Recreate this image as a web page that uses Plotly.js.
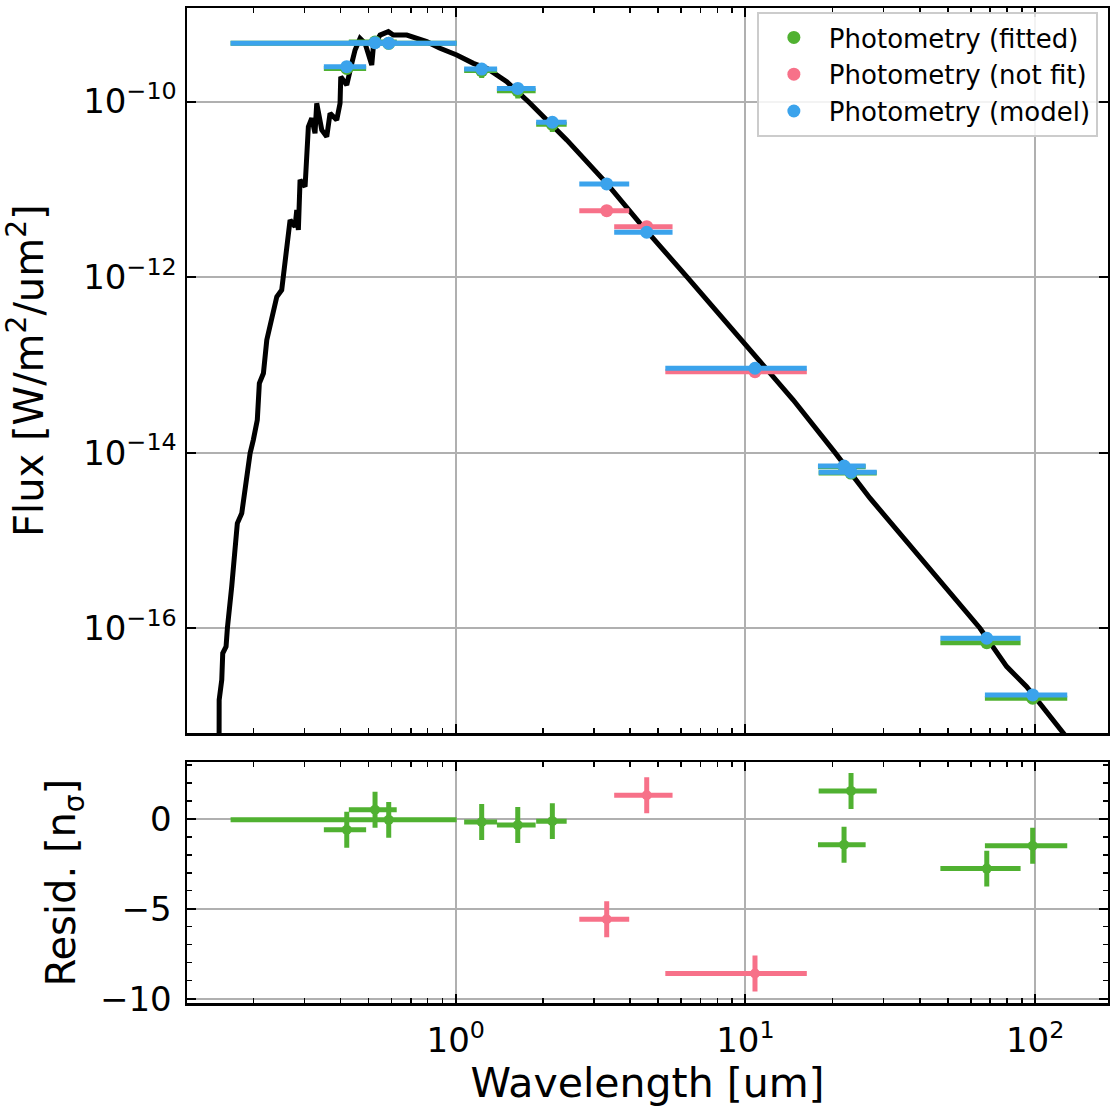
<!DOCTYPE html>
<html>
<head>
<meta charset="utf-8">
<script src="https://cdn.plot.ly/plotly-3.0.1.min.js"></script>
<style>html,body{margin:0;padding:0;background:#fff;}#chart{width:1110px;height:1107px;}</style>
</head>
<body>
<div id="chart"></div>
<script>
// ---- Model SED (black curve) ----
const sedWavelength = [0.1524, 0.1525, 0.1557, 0.1569, 0.1611, 0.1628, 0.1685, 0.1730, 0.1762, 0.1825, 0.1874, 0.1950, 0.2001, 0.2065, 0.2099, 0.2168, 0.2227, 0.2317, 0.2411, 0.2507, 0.2575, 0.2644, 0.2680, 0.2788, 0.2826, 0.2862, 0.2901, 0.3019, 0.3099, 0.3184, 0.3267, 0.3312, 0.3447, 0.3587, 0.3682, 0.3883, 0.3987, 0.4009, 0.4205, 0.4375, 0.4492, 0.4674, 0.4863, 0.5129, 0.5194, 0.5479, 0.5852, 0.6089, 0.6776, 0.7943, 0.8827, 1.008, 1.150, 1.279, 1.500, 1.805, 2.416, 3.320, 4.327, 6.272, 9.97, 14.63, 20.39, 26.92, 64.53, 79.8, 93.5, 125.1, 137.3];
const sedFlux = [4.69e-18, 1.53e-17, 2.58e-17, 5.19e-17, 6.17e-17, 1.0e-16, 2.98e-16, 7.14e-16, 1.57e-15, 2.04e-15, 4.10e-15, 9.84e-15, 1.40e-14, 2.36e-14, 6.17e-14, 8.02e-14, 1.92e-13, 3.24e-13, 5.98e-13, 7.13e-13, 1.44e-12, 3.16e-12, 4.47e-12, 3.75e-12, 5.81e-12, 3.44e-12, 1.28e-11, 1.07e-11, 5.16e-11, 6.44e-11, 4.35e-11, 9.54e-11, 4.73e-11, 3.97e-11, 7.34e-11, 6.15e-11, 9.54e-11, 1.91e-10, 1.54e-10, 2.72e-10, 3.86e-10, 5.25e-10, 4.61e-10, 2.61e-10, 4.21e-10, 5.71e-10, 6.24e-10, 5.71e-10, 5.71e-10, 4.80e-10, 4.04e-10, 3.39e-10, 2.72e-10, 2.39e-10, 1.68e-10, 9.54e-11, 3.65e-11, 1.17e-11, 4.10e-12, 1.01e-12, 1.76e-13, 3.98e-14, 1.0e-14, 3.03e-15, 1.0e-16, 3.66e-17, 2.16e-17, 6.37e-18, 4.34e-18];

// ---- Photometry: fitted ----
const fitWavelength    = [0.4205, 0.5265, 0.587, 1.229, 1.637, 2.155, 21.9, 23.15, 68.1, 98.1];
const fitWavelengthErr = [0.07, 0.099, 0.42, 0.16, 0.25, 0.26, 4.1, 5.25, 21, 31];
const fitFlux          = [2.38e-10, 4.75e-10, 4.60e-10, 2.25e-10, 1.33e-10, 5.5e-11, 6.9e-15, 5.85e-15, 6.85e-17, 1.60e-17];
const fitFluxErr       = [0.25e-10, 0.3e-10, 0.3e-10, 0.4e-10, 0.25e-10, 1.0e-11, 0.5e-15, 0.4e-15, 0.4e-17, 0.1e-17];
const fitModelFlux     = [2.49e-10, 4.68e-10, 4.62e-10, 2.34e-10, 1.41e-10, 5.80e-11, 7.05e-15, 5.98e-15, 7.69e-17, 1.74e-17];
const fitResidual      = [-0.61, 0.50, -0.06, -0.18, -0.35, -0.13, -1.44, 1.55, -2.77, -1.50];
const fitResidualErr   = [1, 1, 1, 1, 1, 1, 1, 1, 1, 1];

// ---- Photometry: not fit ----
const nofitWavelength    = [3.32, 4.563, 10.79];
const nofitWavelengthErr = [0.65, 1.04, 5.5];
const nofitFlux          = [5.70e-12, 3.75e-12, 8.37e-14];
const nofitFluxErr       = [0.4e-12, 0.3e-12, 0.4e-14];
const nofitModelFlux     = [1.15e-11, 3.24e-12, 9.15e-14];
const nofitResidual      = [-5.58, 1.31, -8.6];
const nofitResidualErr   = [1, 1, 1];

// ---- Axis ticks ----
const xTickVals = [1, 10, 100];
const xTickText = ['10<sup>0</sup>', '10<sup>1</sup>', '10<sup>2</sup>'];
const xMinorVals = [0.2,0.3,0.4,0.5,0.6,0.7,0.8,0.9,2,3,4,5,6,7,8,9,20,30,40,50,60,70,80,90];
const fluxTickVals = [1e-16, 1e-14, 1e-12, 1e-10];
const fluxTickText = ['10<sup>\u221216</sup>', '10<sup>\u221214</sup>', '10<sup>\u221212</sup>', '10<sup>\u221210</sup>'];
const residTickVals = [-10, -5, 0];
const residTickText = ['\u221210', '\u22125', '0'];

const GREEN = '#50b131', PINK = '#f77189', BLUE = '#3ba3ec';
const FONT = 'DejaVu Sans, sans-serif';

const modelWavelength = fitWavelength.concat(nofitWavelength);
const modelWavelengthErr = fitWavelengthErr.concat(nofitWavelengthErr);
const modelFlux = fitModelFlux.concat(nofitModelFlux);

const traces = [
  {x: sedWavelength, y: sedFlux, type: 'scatter', mode: 'lines',
   line: {color: 'black', width: 5}, showlegend: false, xaxis: 'x', yaxis: 'y', hoverinfo: 'skip'},
  {x: fitWavelength, y: fitFlux, type: 'scatter', mode: 'markers', name: 'Photometry (fitted)',
   marker: {color: GREEN, size: 13},
   error_x: {type: 'data', array: fitWavelengthErr, color: GREEN, thickness: 5, width: 0},
   error_y: {type: 'data', array: fitFluxErr, color: GREEN, thickness: 5, width: 0},
   xaxis: 'x', yaxis: 'y'},
  {x: nofitWavelength, y: nofitFlux, type: 'scatter', mode: 'markers', name: 'Photometry (not fit)',
   marker: {color: PINK, size: 13},
   error_x: {type: 'data', array: nofitWavelengthErr, color: PINK, thickness: 5, width: 0},
   error_y: {type: 'data', array: nofitFluxErr, color: PINK, thickness: 5, width: 0},
   xaxis: 'x', yaxis: 'y'},
  {x: modelWavelength, y: modelFlux, type: 'scatter', mode: 'markers', name: 'Photometry (model)',
   marker: {color: BLUE, size: 13},
   error_x: {type: 'data', array: modelWavelengthErr, color: BLUE, thickness: 5, width: 0},
   xaxis: 'x', yaxis: 'y'},
  {x: fitWavelength, y: fitResidual, type: 'scatter', mode: 'markers', showlegend: false,
   marker: {color: GREEN, size: 10},
   error_x: {type: 'data', array: fitWavelengthErr, color: GREEN, thickness: 5, width: 0},
   error_y: {type: 'data', array: fitResidualErr, color: GREEN, thickness: 5, width: 0},
   xaxis: 'x2', yaxis: 'y2'},
  {x: nofitWavelength, y: nofitResidual, type: 'scatter', mode: 'markers', showlegend: false,
   marker: {color: PINK, size: 10},
   error_x: {type: 'data', array: nofitWavelengthErr, color: PINK, thickness: 5, width: 0},
   error_y: {type: 'data', array: nofitResidualErr, color: PINK, thickness: 5, width: 0},
   xaxis: 'x2', yaxis: 'y2'}
];

const axisCommon = {
  showline: true, linecolor: 'black', linewidth: 2.5, mirror: 'ticks',
  ticks: 'inside', ticklen: 9, tickwidth: 2, tickcolor: 'black',
  showgrid: true, gridcolor: '#b0b0b0', gridwidth: 2, zeroline: false,
  tickfont: {family: FONT, size: 34, color: 'black'}
};
const xRange = [Math.log10(0.1181), Math.log10(178.5)];

const layout = {
  width: 1110, height: 1107,
  margin: {l: 187, r: 2, t: 8, b: 104},
  paper_bgcolor: 'white', plot_bgcolor: 'white',
  font: {family: FONT, color: 'black'},
  showlegend: true,
  legend: {x: 0.989, y: 0.996, xanchor: 'right', yanchor: 'top',
    bgcolor: 'rgba(255,255,255,0.85)', bordercolor: '#cccccc', borderwidth: 2,
    font: {family: FONT, size: 26, color: 'black'}, tracegroupgap: 0, itemwidth: 60},
  xaxis: Object.assign({}, axisCommon, {
    type: 'log', range: xRange, domain: [0, 1], anchor: 'y',
    tickvals: xTickVals, showticklabels: false,
    minor: {tickvals: xMinorVals, ticks: 'inside', ticklen: 5, tickwidth: 1.5, tickcolor: 'black', showgrid: false}
  }),
  yaxis: Object.assign({}, axisCommon, {
    type: 'log', range: [-17.196, -8.935], domain: [0.2711, 1], anchor: 'x',
    tickvals: fluxTickVals, ticktext: fluxTickText, ticklabelstandoff: 1,
    title: {text: 'Flux [W/m<sup>2</sup>/um<sup>2</sup>]', font: {family: FONT, size: 40, color: 'black'}, standoff: 31}
  }),
  xaxis2: Object.assign({}, axisCommon, {
    type: 'log', range: xRange, domain: [0, 1], anchor: 'y2',
    tickvals: xTickVals, ticktext: xTickText, ticklabelstandoff: 6,
    minor: {tickvals: xMinorVals, ticks: 'inside', ticklen: 5, tickwidth: 1.5, tickcolor: 'black', showgrid: false},
    title: {text: 'Wavelength [um]', font: {family: FONT, size: 41, color: 'black'}, standoff: 7}
  }),
  yaxis2: Object.assign({}, axisCommon, {
    range: [-10.24, 3.14], domain: [0, 0.2419], anchor: 'x2',
    tickvals: residTickVals, ticktext: residTickText, ticklabelstandoff: 6,
    minor: {dtick: 1, tick0: 0, ticks: 'inside', ticklen: 5, tickwidth: 1.5, tickcolor: 'black', showgrid: false},
    title: {text: 'Resid. [n<sub>\u03c3</sub>]', font: {family: FONT, size: 40, color: 'black'}, standoff: 12}
  })
};

Plotly.newPlot('chart', traces, layout, {displayModeBar: false, staticPlot: true});
</script>
</body>
</html>
